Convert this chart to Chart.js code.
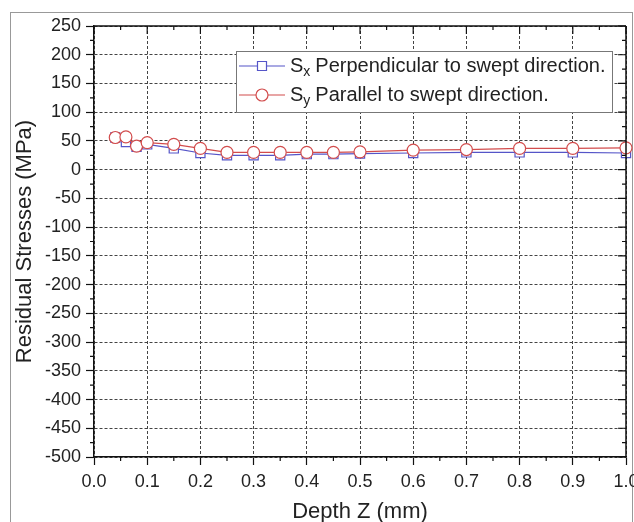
<!DOCTYPE html>
<html>
<head>
<meta charset="utf-8">
<script src="https://cdn.jsdelivr.net/npm/chart.js@4"></script>
<style>
  body { margin: 0; background: #fff; }
  canvas { display: block; }
</style>
</head>
<body>
<canvas id="chart" width="634" height="522"></canvas>
<script>
// data
const depth = [0.04, 0.06, 0.08, 0.10, 0.15, 0.20, 0.25, 0.30, 0.35, 0.40, 0.45, 0.50, 0.60, 0.70, 0.80, 0.90, 1.00];
const sx = [56, 48, 40, 44, 37, 29, 25, 25, 25, 27, 27, 28, 29, 30, 30, 30, 29];
const sy = [56, 57, 41, 47, 44, 37, 30, 30, 30, 30, 30, 31, 34, 35, 37, 37, 38];
const legendNames = [
  { sub: "x", text: "Perpendicular to swept direction." },
  { sub: "y", text: "Parallel to swept direction." }
];

const blue = "#5555c8";
const red = "#d24c4c";
const FONT = "Arial, 'Liberation Sans', sans-serif";

function pts(xs, ys) {
  return xs.map((x, i) => ({ x: x, y: ys[i] }));
}

// ================== FRAME / TICKS / LEGEND ==================
const extras = {
  id: "extras",
  beforeDraw(chart) {
    const c = chart.ctx;
    c.save();
    c.strokeStyle = "#999";
    c.lineWidth = 1;
    c.strokeRect(10.5, 12.5, 622, 600);
    c.restore();
  },
  afterDraw(chart) {
    const c = chart.ctx;
    const a = chart.chartArea;
    const xs = chart.scales.x, ys = chart.scales.y;
    c.save();
    c.strokeStyle = "#111";
    c.lineWidth = 1.5;
    // top + right axis lines
    c.beginPath();
    c.moveTo(a.left, a.top); c.lineTo(a.right, a.top);
    c.moveTo(a.right, a.top); c.lineTo(a.right, a.bottom);
    c.stroke();

    c.lineWidth = 1.2;
    c.beginPath();
    // x ticks: minor outward at bottom, all inward at top
    for (let i = 0; i <= 20; i++) {
      const px = xs.getPixelForValue(i * 0.05);
      const len = i % 2 === 0 ? 8 : 4;
      if (i % 2 === 1) { c.moveTo(px, a.bottom); c.lineTo(px, a.bottom + 4); }
      c.moveTo(px, a.top); c.lineTo(px, a.top + len);
    }
    // y ticks: minor outward at left, all inward at right
    for (let v = -500; v <= 250; v += 25) {
      const py = ys.getPixelForValue(v);
      const major = v % 50 === 0;
      if (!major) { c.moveTo(a.left, py); c.lineTo(a.left - 4, py); }
      c.moveTo(a.right, py); c.lineTo(a.right - (major ? 8 : 4), py);
    }
    c.stroke();

    // legend box
    const bx = 236.5, by = 51.5, bw = 376, bh = 61;
    c.fillStyle = "#fff";
    c.fillRect(bx, by, bw, bh);
    c.strokeStyle = "#777";
    c.lineWidth = 1;
    c.strokeRect(bx, by, bw, bh);

    const rows = [66, 95];
    const cols = [blue, red];
    rows.forEach((ry, i) => {
      c.strokeStyle = cols[i];
      c.lineWidth = 1.2;
      c.beginPath();
      c.moveTo(239, ry); c.lineTo(285, ry);
      c.stroke();
      c.fillStyle = "#fff";
      c.beginPath();
      if (i === 0) c.rect(257.5, ry - 4.5, 9, 9);
      else c.arc(262, ry, 6, 0, Math.PI * 2);
      c.fill();
      c.stroke();

      c.fillStyle = "#222";
      c.textBaseline = "alphabetic";
      c.font = "20px " + FONT;
      let tx = 290;
      c.fillText("S", tx, ry + 6);
      tx += c.measureText("S").width;
      c.font = "14px " + FONT;
      c.fillText(legendNames[i].sub, tx, ry + 10);
      tx += c.measureText(legendNames[i].sub).width + 5;
      c.font = "20px " + FONT;
      c.fillText(legendNames[i].text, tx, ry + 6);
    });
    c.restore();
  }
};

// ================== CHART ==================
new Chart(document.getElementById("chart"), {
  type: "line",
  data: {
    datasets: [
      {
        label: "Sx " + legendNames[0].text,
        data: pts(depth, sx),
        borderColor: blue,
        backgroundColor: "#fff",
        borderWidth: 1.2,
        pointStyle: "rect",
        pointRadius: 6.5,
        pointBorderWidth: 1.2,
        clip: false,
        order: 1
      },
      {
        label: "Sy " + legendNames[1].text,
        data: pts(depth, sy),
        borderColor: red,
        backgroundColor: "#fff",
        borderWidth: 1.2,
        pointStyle: "circle",
        pointRadius: 6,
        pointBorderWidth: 1.2,
        clip: false,
        order: 0
      }
    ]
  },
  options: {
    responsive: false,
    animation: false,
    layout: { padding: { left: 10, top: 26, right: 8, bottom: 0 } },
    plugins: { legend: { display: false }, tooltip: { enabled: false } },
    scales: {
      x: {
        type: "linear",
        min: 0, max: 1,
        afterFit(s) { s.height = 65; s.paddingLeft = 0; s.paddingRight = 0; },
        ticks: {
          stepSize: 0.1,
          maxRotation: 0,
          padding: 6,
          color: "#222",
          font: { family: FONT, size: 18 },
          callback: v => v.toFixed(1)
        },
        grid: { color: "#444", lineWidth: 1, tickColor: "#111", tickLength: 8, tickWidth: 1.2 },
        border: { color: "#111", width: 1.5, dash: [3, 2] },
        title: {
          display: true,
          text: "Depth Z (mm)",
          color: "#222",
          font: { family: FONT, size: 22 },
          padding: { top: 0, bottom: -3 }
        }
      },
      y: {
        min: -500, max: 250,
        afterFit(s) { s.width = 84; s.paddingTop = 0; s.paddingBottom = 0; },
        ticks: {
          stepSize: 50,
          padding: 5,
          color: "#222",
          font: { family: FONT, size: 18 }
        },
        grid: { color: "#444", lineWidth: 1, tickColor: "#111", tickLength: 8, tickWidth: 1.2 },
        border: { color: "#111", width: 1.5, dash: [3, 2] },
        title: {
          display: true,
          text: "Residual Stresses (MPa)",
          color: "#222",
          font: { family: FONT, size: 22 },
          padding: { top: 2, bottom: 0 }
        }
      }
    }
  },
  plugins: [extras]
});
</script>
</body>
</html>
